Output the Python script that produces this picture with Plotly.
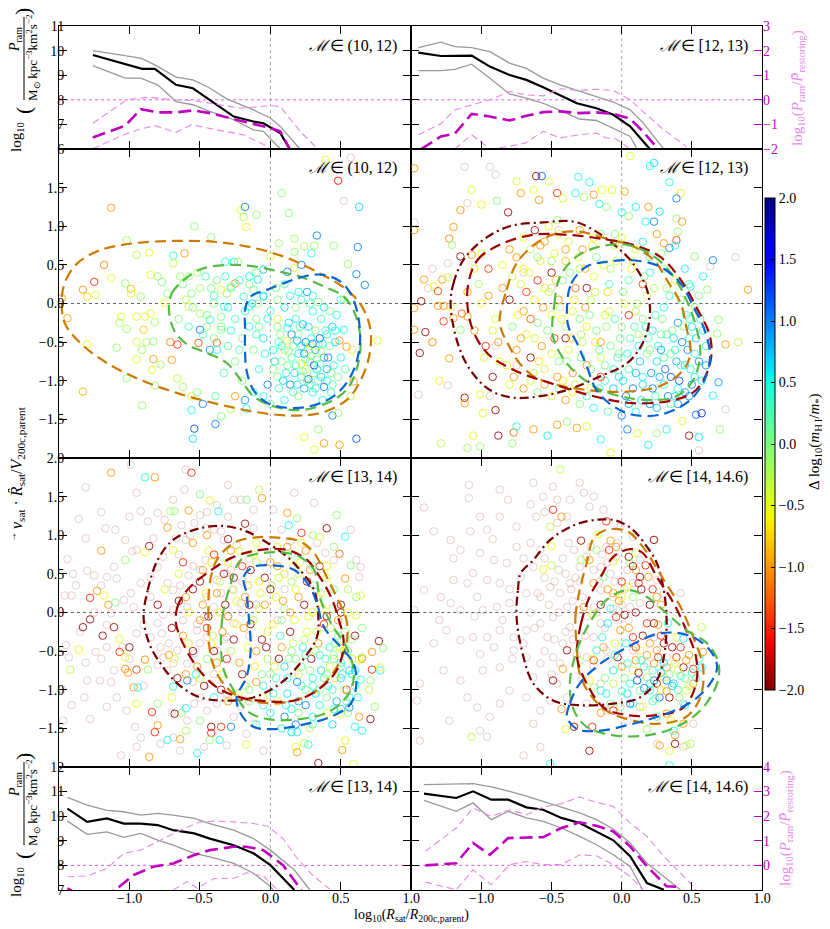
import numpy as np
import plotly.graph_objects as go

# ---------------- data ----------------
# top-left panel  M in (10,12)
TL_BLACK_X = [-1.26, -0.91, -0.82, -0.67, -0.55, -0.45, -0.26, -0.12, -0.05, 0.07, 0.14]
TL_BLACK_Y = [9.82, 9.26, 9.26, 8.61, 8.47, 8.07, 7.32, 7.12, 7.05, 6.65, 5.97]
TL_GUP_X = [-1.26, -1.02, -0.92, -0.82, -0.67, -0.55, -0.44, -0.31, -0.12, 0.0, 0.07, 0.21]
TL_GUP_Y = [10.0, 9.78, 9.69, 9.42, 8.92, 8.81, 8.51, 8.04, 7.59, 7.26, 6.92, 6.0]
TL_GLO_X = [-1.26, -1.03, -0.92, -0.80, -0.67, -0.55, -0.43, -0.26, -0.12, -0.05, 0.07]
TL_GLO_Y = [9.39, 8.88, 8.88, 8.61, 7.93, 7.80, 7.53, 7.19, 6.78, 6.72, 6.0]
TL_MAG_X = [-1.26, -1.03, -0.92, -0.80, -0.67, -0.55, -0.43, -0.26, -0.12, 0.0, 0.07, 0.14]
TL_MAG_Y = [-1.53, -1.05, -0.38, -0.51, -0.51, -0.43, -0.54, -0.78, -0.95, -1.15, -1.28, -2.03]
TL_VUP_X = [-1.26, -1.02, -0.86, -0.69, -0.55, -0.38, -0.21, 0.0, 0.07, 0.21, 0.33]
TL_VUP_Y = [-0.95, 0.0, 0.11, 0.0, -0.03, -0.2, -0.34, -0.24, -0.27, -1.28, -1.96]
TL_VLO_X = [-1.26, -1.04, -0.92, -0.82, -0.67, -0.56, -0.38, -0.19, -0.02, 0.01]
TL_VLO_Y = [-1.99, -1.42, -1.18, -1.05, -1.32, -1.01, -1.22, -1.42, -1.89, -2.16]

# top-right panel  M in [12,13)
TR_BLACK_X = [-1.45, -1.29, -1.07, -0.94, -0.80, -0.68, -0.56, -0.44, -0.32, -0.18, -0.06, 0.06, 0.20]
TR_BLACK_Y = [9.92, 9.78, 9.80, 9.35, 9.01, 8.81, 8.51, 8.20, 7.86, 7.66, 7.39, 6.92, 6.0]
TR_GUP_X = [-1.45, -1.29, -1.19, -1.07, -0.94, -0.80, -0.68, -0.56, -0.44, -0.32, -0.18, -0.06, 0.06, 0.15, 0.30]
TR_GUP_Y = [10.12, 10.34, 10.16, 10.12, 9.96, 9.49, 9.28, 8.88, 8.61, 8.38, 8.14, 7.91, 7.59, 7.08, 6.0]
TR_GLO_X = [-1.45, -1.29, -1.19, -1.07, -0.94, -0.80, -0.68, -0.56, -0.44, -0.30, -0.18, -0.06, 0.06, 0.11]
TR_GLO_Y = [9.19, 9.19, 9.24, 9.45, 8.88, 8.24, 8.07, 7.86, 7.57, 7.22, 7.16, 6.85, 6.51, 6.0]
TR_MAG_X = [-1.43, -1.29, -1.19, -1.07, -0.94, -0.80, -0.68, -0.56, -0.44, -0.30, -0.18, -0.06, 0.06, 0.15, 0.26]
TR_MAG_Y = [-2.0, -1.49, -1.38, -0.57, -0.68, -0.84, -0.65, -0.50, -0.47, -0.54, -0.51, -0.57, -0.77, -1.28, -2.0]
TR_VUP_X = [-1.45, -1.29, -1.19, -1.07, -0.94, -0.80, -0.68, -0.56, -0.44, -0.30, -0.18, -0.06, 0.06, 0.15, 0.30, 0.46]
TR_VUP_Y = [-1.42, -0.97, -0.41, -0.20, 0.0, 0.34, 0.20, 0.16, 0.45, 0.38, 0.43, 0.38, 0.0, -0.47, -1.22, -1.89]
TR_VLO_X = [-1.19, -1.07, -0.94, -0.80, -0.69, -0.56, -0.44, -0.30, -0.18, -0.11, -0.04, 0.06]
TR_VLO_Y = [-2.0, -1.42, -2.0, -1.89, -1.76, -1.28, -1.55, -1.42, -1.35, -1.55, -1.59, -2.0]

# bottom-left panel  M in [13,14)
BL_BLACK_X = [-1.44, -1.30, -1.16, -1.04, -0.92, -0.80, -0.69, -0.54, -0.43, -0.26, -0.12, 0.0, 0.17]
BL_BLACK_Y = [10.31, 9.77, 9.91, 9.70, 9.70, 9.64, 9.43, 9.30, 9.09, 8.82, 8.49, 8.01, 7.0]
BL_GUP_X = [-1.44, -1.30, -1.16, -1.04, -0.92, -0.80, -0.69, -0.54, -0.43, -0.26, -0.12, 0.0, 0.17, 0.28]
BL_GUP_Y = [10.76, 10.45, 10.24, 10.18, 10.04, 10.11, 10.04, 9.91, 9.70, 9.43, 9.09, 8.62, 7.81, 7.0]
BL_GLO_X = [-1.44, -1.30, -1.16, -1.04, -0.92, -0.80, -0.69, -0.54, -0.43, -0.26, -0.12, 0.0, 0.02]
BL_GLO_Y = [9.80, 9.26, 9.36, 9.14, 9.30, 9.03, 8.82, 8.49, 8.35, 8.08, 7.68, 7.14, 7.0]
BL_MAG_X = [-1.44, -1.30, -1.10, -0.97, -0.83, -0.69, -0.54, -0.43, -0.26, -0.17, -0.05, 0.09, 0.22]
BL_MAG_Y = [-0.93, -1.40, -1.0, -0.39, -0.05, 0.08, 0.42, 0.62, 0.76, 0.76, 0.62, 0.01, -1.0]
BL_VUP_X = [-1.44, -1.30, -1.16, -1.04, -0.92, -0.78, -0.64, -0.50, -0.40, -0.26, -0.12, -0.02, 0.09, 0.19, 0.31, 0.43]
BL_VUP_Y = [-0.46, -0.43, -0.12, 0.49, 0.62, 1.03, 1.43, 1.77, 1.80, 1.77, 1.70, 1.59, 1.09, 0.28, -0.46, -1.0]
BL_VLO_X = [-0.69, -0.59, -0.52, -0.40, -0.26, -0.17, -0.05, 0.05]
BL_VLO_Y = [-1.0, -0.66, -0.93, -0.53, -0.53, -0.30, -0.43, -1.0]

# bottom-right panel  M in [14,14.6)
BR_BLACK_X = [-1.41, -1.18, -1.06, -0.93, -0.81, -0.68, -0.56, -0.43, -0.30, -0.18, -0.06, 0.06, 0.18, 0.30]
BR_BLACK_Y = [10.92, 10.74, 11.01, 10.67, 10.67, 10.36, 10.26, 9.93, 9.72, 9.38, 9.02, 8.37, 7.28, 7.01]
BR_GUP_X = [-1.41, -1.06, -0.93, -0.80, -0.68, -0.56, -0.43, -0.30, -0.18, -0.06, 0.06, 0.18, 0.30, 0.42]
BR_GUP_Y = [11.28, 11.32, 11.19, 11.01, 10.81, 10.60, 10.37, 10.13, 9.86, 9.48, 8.91, 8.09, 7.55, 7.0]
BR_GLO_X = [-1.41, -1.18, -1.06, -0.93, -0.81, -0.68, -0.56, -0.43, -0.30, -0.18, -0.06, 0.06, 0.15]
BR_GLO_Y = [10.64, 10.20, 10.54, 9.86, 10.20, 9.93, 9.79, 9.52, 9.18, 8.84, 8.43, 7.96, 7.0]
BR_MAG_X = [-1.40, -1.18, -1.06, -0.94, -0.81, -0.68, -0.56, -0.43, -0.30, -0.18, -0.06, 0.06, 0.18, 0.32, 0.43]
BR_MAG_Y = [0.0, 0.09, 0.91, 0.43, 1.11, 1.14, 1.15, 1.52, 1.75, 1.61, 1.38, 0.77, -0.04, -0.85, -0.88]
BR_VUP_X = [-1.40, -1.18, -1.06, -0.93, -0.80, -0.68, -0.56, -0.43, -0.30, -0.18, -0.06, 0.06, 0.18, 0.30, 0.42, 0.53]
BR_VUP_Y = [0.57, 1.52, 2.33, 1.99, 2.26, 2.06, 2.37, 2.51, 2.78, 2.56, 2.40, 1.72, 1.18, 0.37, -0.31, -0.99]
BR_VLO_X = [-1.40, -1.18, -1.06, -0.93, -0.80, -0.68, -0.56, -0.43, -0.30, -0.18, -0.06, 0.06, 0.15]
BR_VLO_Y = [-0.68, -0.99, -0.18, -0.79, 0.03, 0.16, 0.03, 0.03, 0.43, 0.39, 0.03, -0.45, -0.99]

# scatter panel 1  M in (10,12): (x, y, delta)
P1_PTS = [
 (-1.13,1.24,-1.0),(-1.02,0.82,-0.2),(-1.18,0.5,-1.1),(-1.13,0.33,-0.5),(-1.25,0.28,-1.5),(-1.33,0.18,-1.0),
 (-1.30,0.09,-0.7),(-1.24,0.11,-0.5),(-1.48,0.07,-1.0),(-1.44,-0.19,-1.0),(-1.30,-0.53,-0.6),(-1.33,-1.14,-0.9),
 (-0.95,0.63,-0.3),(-0.86,0.66,-0.5),(-0.99,0.19,-0.9),(-0.99,0.13,-0.5),(-1.03,0.26,-0.1),(-0.92,0.09,-0.1),
 (-0.85,0.37,-0.5),(-0.80,0.35,-0.1),(-0.77,0.28,0.0),(-0.73,0.13,0.0),(-1.06,-0.17,-0.5),(-1.07,-0.25,-0.2),
 (-1.02,-0.33,-0.2),(-0.95,-0.17,-0.5),(-0.89,-0.17,-0.4),(-0.85,-0.13,-0.5),(-0.82,-0.24,-0.2),(-0.90,-0.34,-0.8),
 (-0.88,-0.50,-0.2),(-0.83,-0.49,-0.1),(-0.95,-0.50,-0.4),(-0.91,-0.60,-0.1),(-1.09,-0.57,-0.1),(-0.95,-0.72,-0.5),
 (-0.83,-0.72,-1.0),(-0.78,-0.79,-0.2),(-0.84,-0.86,-0.5),(-1.02,-0.97,-0.1),(-0.91,-1.32,-0.1),(-0.82,-1.06,-0.2),
 (-0.71,-0.50,-1.1),(-0.66,-0.53,-1.5),(-0.70,-0.73,-1.0),(-0.66,-0.97,-0.3),(-0.62,-1.08,-0.2),(-0.51,-0.51,-1.3),
 (-0.38,-0.51,-1.3),(-0.75,0.01,-0.5),(-0.69,0.62,0.4),(-0.61,0.65,-1.0),(-0.69,0.52,-0.3),(-0.64,0.35,-0.1),
 (-0.58,0.35,-0.1),(-0.56,0.13,0.0),(-0.54,1.0,-0.1),(-0.42,0.86,-0.1),(-0.58,-0.04,-0.5),(-0.50,-0.13,-0.2),
 (-0.45,-0.30,-0.1),(-0.56,-1.20,-0.5),(-0.52,-1.15,-0.1),(-0.56,-1.38,0.5),(-0.54,-1.62,1.2),(-0.55,-1.75,0.6),
 (-0.48,-1.30,1.0),(-0.39,-1.20,0.2),(-0.39,-1.56,1.0),(-0.35,-1.46,0.0),(-0.28,-1.37,-0.3),(-0.25,-1.20,-1.0),
 (-0.17,-1.36,0.5),(-0.18,-1.25,0.9),(-0.50,-0.34,1.0),(-0.43,-0.60,0.9),(-0.40,0.00,0.0),(-0.35,-0.17,0.0),
 (-0.43,-0.21,0.4),(-0.35,-0.34,0.0),(-0.33,-0.04,0.4),(-0.31,0.13,-0.1),(-0.25,0.26,-1.0),(-0.28,0.22,0.0),
 (-0.35,0.18,-0.5),(-0.32,0.54,0.4),(-0.26,0.54,0.5),(-0.23,0.54,-0.1),(-0.21,1.21,-0.5),(-0.18,1.25,1.0),
 (-0.19,1.12,-0.2),(-0.17,0.99,-0.6),(-0.10,1.15,-0.1),(-0.15,0.35,0.5),(-0.09,0.31,0.6),(-0.12,0.18,0.0),
 (-0.19,0.09,0.5),(-0.15,-0.04,0.5),(-0.09,0.0,-0.1),(-0.05,0.09,0.6),(-0.05,0.44,0.7),(0.0,0.61,-0.5),
 (0.06,0.78,-0.1),(0.08,1.43,-0.1),(0.13,1.17,0.0),(0.17,0.84,-0.2),(0.17,0.67,-0.1),(0.17,0.46,-0.5),
 (0.12,0.41,1.0),(0.22,0.50,1.0),(0.24,0.74,-0.2),(0.29,0.65,0.5),(0.33,0.88,1.0),(0.31,0.75,-0.1),
 (0.45,0.75,-0.1),(0.63,1.25,0.7),(0.62,0.73,1.0),(0.55,0.51,-0.1),(0.61,0.38,1.0),(0.67,0.24,1.0),
 (0.48,1.59,-1.6),(0.39,1.86,-0.5),(0.31,-1.89,-0.5),(0.24,-1.73,-0.5),(0.38,-1.81,-1.0),(0.49,-1.83,-1.0),
 (0.61,-1.75,1.2),(0.34,-1.63,-0.1),(0.44,-1.45,1.0),(0.48,-1.42,-0.1),(0.57,-1.20,-0.3),(0.59,-1.01,-1.0),
 (0.76,-0.48,-0.5),(0.58,-0.60,-0.5),(0.54,-0.56,-1.0),(0.49,-0.48,-1.0),(0.52,-0.34,0.5),(0.50,0.05,0.5),
 (0.52,0.05,-0.1),
 (-0.15,-0.30,0.5),(-0.10,-0.20,0.0),(-0.05,-0.45,0.6),(0.00,-0.10,0.3),(0.05,-0.30,0.0),(0.08,-0.55,0.5),
 (0.10,-0.05,0.6),(0.12,-0.80,0.0),(0.15,-0.40,1.0),(0.18,-0.20,0.4),(0.20,-0.65,0.5),(0.22,-0.95,0.3),
 (0.25,-0.50,1.1),(0.27,-0.30,0.6),(0.28,-0.75,0.0),(0.30,-0.10,0.5),(0.32,-0.60,0.9),(0.33,-0.85,0.6),
 (0.35,-0.45,1.2),(0.36,-0.20,0.4),(0.38,-0.70,1.0),(0.40,-1.00,0.5),(0.42,-0.55,0.0),(0.44,-0.30,0.7),
 (0.45,-0.80,0.4),(-0.12,-0.60,0.0),(-0.08,-0.85,0.4),(-0.02,-1.05,1.0),(0.03,-0.75,0.6),(0.06,-1.10,0.3),
 (0.10,-1.25,0.5),(0.14,-1.05,1.0),(0.17,-0.90,0.6),(0.20,-1.20,0.0),(0.24,-1.10,0.8),(0.27,-0.98,1.2),
 (0.30,-1.15,0.5),(0.34,-1.00,0.2),(0.37,-1.25,0.5),(0.18,-0.05,0.0),(0.14,0.10,0.5),(0.22,0.05,0.3),
 (0.26,0.15,0.9),(0.30,0.10,0.5),(0.34,0.02,0.0),(0.38,-0.05,0.6),(0.05,0.05,0.0),(-0.05,0.10,0.5),
 (0.40,-0.40,0.5),(0.25,-0.85,-0.3),(0.28,-0.55,-0.4),(0.10,-0.60,-0.2),(0.20,-0.40,0.0),(0.05,-0.95,0.0),
 (0.32,-0.35,0.0),(-0.10,-0.40,0.3),(0.15,-0.70,0.2),(0.36,-0.62,-0.2),(0.29,-0.68,0.0),(0.23,-0.27,0.8),
 (0.12,-0.32,0.5),(-0.18,-0.10,0.4),(-0.20,-0.45,0.0),(-0.25,-0.20,0.3),(-0.30,-0.05,0.5),(-0.35,-0.30,0.0),
 (-0.40,0.10,0.4),(-0.45,-0.15,0.0),(-0.28,0.20,0.2),(-0.22,0.30,0.5),(-0.15,0.25,0.0),(-0.38,0.30,0.0),
 (-0.50,0.20,-0.2),(-0.55,-0.05,0.0),(-0.60,0.05,-0.3),(-0.48,-0.40,0.3),(-0.30,-0.55,0.2),(-0.25,-0.75,0.0),
 (-0.33,-0.90,0.2),(-0.20,-1.00,0.0),(-0.12,-1.15,0.4),(0.47,-0.15,0.5),(0.48,-0.95,0.0),(0.43,-1.15,0.4),
 (0.05,-0.20,-0.4),(0.12,-0.48,-0.5),(0.22,-0.78,-0.5),
]
P1_EXTRA = [
 (0.02,-0.60,0.5),(0.07,-0.40,0.0),(0.11,-0.90,0.5),(0.16,-0.55,0.0),(0.19,-1.05,0.6),(0.21,-0.30,0.2),
 (0.24,-0.65,1.0),(0.26,-1.00,0.0),(0.29,-0.45,0.5),(0.31,-0.80,1.3),(0.34,-0.55,0.0),(0.36,-0.95,0.6),
 (0.39,-0.35,0.3),(0.41,-0.70,1.0),(0.43,-0.90,0.0),(0.46,-0.50,0.6),(0.08,-0.75,0.0),(0.13,-0.25,0.6),
 (0.27,-0.60,-0.2),(0.33,-0.72,0.0),(0.31,-0.90,0.1),(0.25,-0.72,0.1),(0.22,-0.55,0.6),(0.18,-0.80,0.3),
 (0.30,-0.52,1.0),(0.37,-0.52,0.5),(0.35,-0.78,0.2),(0.40,-0.85,0.8),(0.28,-1.05,0.4),(0.16,-1.15,0.2),
 (0.09,-1.00,0.7),(0.02,-0.85,0.0),(-0.04,-0.65,0.5),(-0.08,-0.30,0.0),(-0.13,0.00,0.6),(-0.02,-0.20,0.5),
 (0.04,0.20,0.0),(0.10,0.25,0.3),(0.20,0.15,0.5),(0.28,0.00,0.2),(0.42,-0.10,0.0),(0.46,-0.35,0.5),
 (-0.28,-0.35,0.5),(-0.22,-0.60,0.2),(-0.38,-0.60,0.5),(-0.42,0.20,0.0),(-0.46,0.35,0.3),(-0.32,0.35,0.4),
 (-0.10,0.40,0.0),(-0.52,0.40,-0.2),(-0.62,0.25,0.0),(-0.65,-0.20,0.0),(-0.58,-0.30,0.3),(-0.40,-0.45,0.0),
 (0.50,-0.70,0.5),(0.53,-0.85,0.2),(0.13,-0.62,0.0),(0.06,-0.50,0.3),(0.19,-0.48,0.7),(0.23,-0.88,0.0),
 (0.32,-1.10,0.3),(0.38,-1.08,1.0),(0.44,-1.05,0.2),(-0.05,-1.20,0.5),(0.00,-1.30,0.2),
]
P1_FADED = [(0.52,1.33),(0.57,1.89)]

# scatter panel 2  M in [12,13)
P2_PTS = [
 (-1.48,1.75,-1.0),(-0.61,1.65,-1.9),(-0.57,1.65,1.2),(-0.75,1.58,-0.5),(-0.52,1.58,-0.5),(-0.31,1.64,0.5),
 (-0.23,1.57,0.5),(0.06,1.91,-0.5),(0.20,1.78,0.5),(0.23,1.82,0.6),(0.34,1.57,0.5),(0.42,1.43,-0.6),
 (0.39,1.36,1.0),(-1.07,1.47,-0.5),(-1.00,1.28,-0.5),(-1.15,1.21,-1.0),(-0.89,1.33,0.0),(-0.81,1.18,-1.9),
 (-0.72,1.43,-1.0),(-0.63,1.47,-0.5),(-0.59,1.34,-1.0),(-0.46,1.43,-1.5),(-0.42,1.36,-0.5),(-0.33,1.43,0.5),
 (-0.27,1.38,-0.1),(-0.20,1.41,-1.0),(-0.14,1.47,-0.5),(-0.07,1.47,-0.5),(0.02,1.45,-1.0),(-0.16,1.29,0.5),
 (-0.11,1.25,-0.1),(0.0,1.18,0.5),(0.05,1.13,-0.1),(0.10,1.25,0.5),(0.19,1.25,-1.0),(0.27,1.19,0.6),
 (0.39,1.10,-0.1),(0.43,1.06,-1.0),(0.23,1.06,1.0),(0.17,1.06,0.5),(-1.48,0.95,-1.0),(-1.20,0.99,-1.0),
 (-1.23,0.84,-1.1),(-1.21,0.76,-0.1),(-1.07,0.63,-1.0),(-1.15,0.61,-1.9),(-1.41,0.31,-1.0),(-1.34,0.22,-0.6),
 (-1.31,0.16,-1.4),(-1.28,0.31,-1.0),(-1.24,0.34,-0.3),(-1.43,0.03,-1.9),(-1.48,-0.06,-1.0),(-1.48,-0.34,-1.0),
 (-1.40,-0.37,-1.9),(-1.35,-0.50,-1.1),(-1.44,-0.64,-1.9),(-1.31,-0.03,-1.0),(-1.27,-0.03,-1.1),(-1.22,-0.04,-0.6),
 (-1.27,-0.23,-1.4),(-1.20,-0.19,-1.0),(-1.14,-0.13,-1.3),(-1.10,-0.17,-1.0),(-1.15,-0.34,-0.1),(-1.23,-0.71,-1.0),
 (-1.30,-1.0,-0.6),(-1.12,-1.22,-1.9),(-1.12,-1.29,-1.0),(-1.01,-1.18,-0.5),(-0.90,-1.38,-1.9),(-0.99,-1.42,-0.5),
 (-1.06,-1.71,-0.5),(-1.01,-1.85,-0.1),(-1.29,-1.81,-0.3),(-1.10,-1.87,-0.2),(-0.88,-1.71,-1.9),(-0.77,-1.67,-1.2),
 (-0.75,-1.59,0.5),(-0.78,-1.81,-0.1),(-0.63,-1.63,-1.0),(-0.53,-1.71,0.5),(-0.46,-1.57,-1.0),(-0.39,-1.53,-0.1),
 (-0.32,-1.61,-1.0),(-0.25,-1.59,-0.5),(-0.08,-1.93,-0.6),(-0.15,-1.76,0.5),(0.04,-1.63,1.0),(0.11,-1.68,-0.5),
 (0.19,-1.83,0.5),(0.25,-1.68,-0.1),(0.32,-1.63,0.5),(0.43,-1.52,-0.5),(0.48,-1.71,-1.9),(0.55,-1.73,0.6),
 (0.53,-1.44,1.1),(0.57,-1.42,1.4),(0.65,-1.19,0.5),(0.69,-1.02,0.9),(0.70,-1.63,-0.1),(0.74,-0.53,-1.0),
 (0.83,-0.50,-0.3),(0.68,-0.39,-0.1),(0.69,-0.21,-0.1),(0.90,0.18,-1.0),(0.58,0.35,0.5),(0.65,0.56,1.0),
 (0.52,0.61,-0.1),(0.40,0.93,-0.1),(0.34,0.72,1.0),(0.30,0.78,-1.0),(0.39,0.82,-1.4),(0.49,0.22,0.5),
 (0.61,0.18,-0.1),(-0.46,1.08,-0.1),
 (-0.75,0.60,-1.0),(-0.70,0.45,-0.5),(-0.65,0.70,-0.2),(-0.60,0.30,-1.5),(-0.58,0.55,-0.6),(-0.55,0.80,-1.0),
 (-0.52,0.15,-0.3),(-0.50,0.40,-1.9),(-0.48,0.65,-0.5),(-0.45,0.05,-1.0),(-0.42,0.30,0.0),(-0.40,0.55,-0.8),
 (-0.38,0.80,-0.4),(-0.35,-0.10,-0.5),(-0.33,0.20,-1.2),(-0.30,0.45,-0.2),(-0.28,0.70,-1.0),(-0.25,-0.30,-0.6),
 (-0.22,0.05,-0.3),(-0.20,0.35,-0.5),(-0.18,0.60,0.0),(-0.15,-0.50,-1.0),(-0.12,-0.15,-0.4),(-0.10,0.15,-0.7),
 (-0.08,0.45,-0.2),(-0.05,0.75,-0.5),(-0.03,-0.70,0.3),(0.00,-0.30,-0.1),(0.02,0.00,-0.5),(0.05,0.30,0.2),
 (0.08,0.55,-0.3),(0.10,-0.90,0.8),(0.12,-0.55,0.5),(0.15,-0.20,0.0),(0.18,0.10,-0.4),(0.20,0.40,0.5),
 (0.22,-1.10,1.0),(0.25,-0.75,0.6),(0.28,-0.40,0.1),(0.30,-0.05,0.5),(0.32,0.20,-0.2),(0.35,-0.95,1.2),
 (0.38,-0.60,0.5),(0.40,-0.25,0.9),(0.42,0.05,0.0),(0.45,-0.80,0.6),(0.48,-0.45,0.3),(0.50,-1.05,1.0),
 (0.52,-0.65,0.5),(-0.70,-0.10,-1.0),(-0.68,-0.40,-0.5),(-0.65,-0.70,-1.9),(-0.62,0.05,-0.6),(-0.60,-0.25,0.0),
 (-0.57,-0.55,-1.0),(-0.55,-0.85,-0.4),(-0.50,-0.15,-0.5),(-0.48,-0.45,-1.4),(-0.45,-0.75,0.0),(-0.42,-1.00,-0.6),
 (-0.40,-0.30,-0.2),(-0.38,-0.60,-0.5),(-0.35,-0.90,-1.0),(-0.30,-0.20,0.0),(-0.28,-0.50,-0.3),(-0.25,-0.80,-1.0),
 (-0.22,-1.10,-0.5),(-0.18,-0.35,0.0),(-0.15,-0.70,-0.4),(-0.12,-1.00,0.3),(-0.08,-0.55,0.0),(-0.05,-0.20,0.3),
 (-0.02,-0.95,0.6),(0.03,-1.20,1.0),(0.06,-0.45,0.2),(0.10,-0.10,-0.3),(0.14,-1.25,0.6),(0.17,-0.30,0.5),
 (0.20,-0.60,0.0),(0.24,-0.15,0.3),(0.27,-0.95,0.8),(0.30,-0.70,0.2),(0.33,-1.20,1.0),(0.36,-0.35,0.0),
 (0.40,-1.10,0.5),(0.43,-0.50,1.0),(0.46,-0.15,0.4),(0.50,-0.30,0.6),(-0.85,0.20,-1.0),(-0.90,-0.20,-0.5),
 (-0.95,0.45,-1.4),(-0.88,-0.50,-1.0),(-0.82,-0.80,-0.6),(-0.80,0.05,-1.9),(-0.78,-0.30,0.0),(-0.75,-0.60,-1.0),
 (-0.72,0.25,-0.4),(-1.00,0.00,-0.6),(-1.05,-0.35,-1.0),(-0.98,-0.70,-0.5),(-1.02,0.25,-0.2),(-0.92,-0.95,-1.9),
 (-0.80,-1.05,-0.5),(-0.70,-1.10,-1.0),(-0.60,-1.15,0.0),(-0.50,-1.20,-0.5),(-0.40,-1.25,-1.0),(-0.30,-1.30,0.0),
 (-0.20,-1.35,0.5),(-0.10,-1.40,0.2),(0.00,-1.45,1.0),(0.10,-1.40,0.5),(0.25,-1.35,0.8),(0.40,-1.30,1.0),
 (-0.45,0.90,-0.5),(-0.30,0.95,-1.0),(-0.15,0.90,0.0),(0.00,0.85,-0.5),(0.15,0.80,0.5),(0.28,0.65,-0.2),
 (0.45,0.45,0.5),(0.55,0.10,0.0),(0.58,-0.35,0.5),(0.60,-0.80,0.9),(-0.62,0.95,-1.9),(-0.52,1.00,-0.5),
 (0.25,0.90,-1.0),(0.38,0.75,0.5),(-0.25,0.20,-1.9),(0.05,-0.15,-1.5),(-0.40,-0.45,-1.9),(0.15,0.25,-1.3),
 (-0.15,-0.95,-1.5),(-0.65,-0.20,-1.3),
]
P2_EXTRA = [
 (-0.55,0.20,-0.5),(-0.50,0.55,-0.2),(-0.47,0.30,-0.8),(-0.44,-0.05,-0.3),(-0.40,0.70,-1.0),(-0.37,0.40,0.0),
 (-0.34,0.05,-0.6),(-0.31,0.60,-0.4),(-0.29,-0.40,-0.2),(-0.26,0.45,-0.9),(-0.23,-0.15,0.0),(-0.21,0.75,-0.5),
 (-0.19,0.15,-0.3),(-0.16,-0.60,0.2),(-0.13,0.50,-0.6),(-0.11,-0.30,-0.1),(-0.09,0.25,0.3),(-0.06,-0.85,0.4),
 (-0.04,0.55,-0.4),(-0.01,-0.45,0.1),(0.01,0.15,0.0),(0.04,-0.65,0.5),(0.07,0.45,-0.5),(0.09,-0.30,0.3),
 (0.11,0.00,-0.2),(0.13,-0.75,0.7),(0.16,0.35,0.0),(0.19,-0.45,0.2),(0.21,-0.90,0.9),(0.23,0.20,-0.3),
 (0.26,-0.55,0.5),(0.29,-0.20,0.0),(0.31,-0.85,1.1),(0.34,0.10,0.3),(0.37,-0.45,0.6),(0.39,-0.75,0.8),
 (0.41,-1.00,1.2),(0.44,-0.30,0.0),(0.47,-0.60,0.9),(0.49,-0.85,0.4),(0.53,-0.45,0.7),(0.55,-0.75,1.0),
 (0.57,-1.00,0.5),(-0.62,-0.45,-0.4),(-0.59,-0.75,-0.7),(-0.56,-0.05,-1.0),(-0.53,-0.35,0.0),(-0.50,-0.65,-0.5),
 (-0.46,-0.95,-1.0),(-0.43,-0.20,-0.5),(-0.39,-0.75,0.0),(-0.36,-0.45,-0.8),(-0.33,-1.05,-0.3),(-0.29,-0.70,0.2),
 (-0.26,-0.05,-1.0),(-0.22,-0.85,0.0),(-0.19,-0.50,-0.6),(-0.16,-1.10,0.4),(-0.12,-0.80,0.1),(-0.09,-0.10,-0.4),
 (-0.06,-1.10,0.7),(-0.02,-0.65,0.0),(0.01,-1.00,0.6),(0.05,-0.85,0.2),(0.08,-1.10,1.0),(0.12,-0.40,-0.2),
 (0.15,-0.95,0.5),(0.18,-0.65,0.0),(0.22,-0.35,0.5),(0.24,-1.20,0.3),(0.28,-0.60,0.9),(0.32,-0.40,0.2),
 (0.35,-0.65,0.0),(0.38,-1.20,0.6),(0.42,-0.80,0.3),(0.45,-1.15,0.9),(0.48,-0.20,0.2),(0.52,-0.95,0.6),
 (0.56,-0.20,0.3),(0.60,-0.55,0.2),(-0.85,0.50,-0.5),(-0.80,0.70,-1.0),(-0.78,0.35,-0.3),(-0.74,-0.15,-0.6),
 (-0.72,-0.45,-1.0),(-0.68,0.15,-1.4),(-0.66,0.40,-0.5),(-0.63,-0.90,-0.3),(-0.60,0.60,0.0),(-0.95,0.10,-1.0),
 (-0.92,-0.35,-0.4),(-0.97,-0.55,-1.5),(-1.05,0.45,-0.6),(-1.10,0.15,-1.0),(-1.00,0.65,-0.5),(-0.87,-0.75,-0.6),
 (-0.77,-0.95,-1.0),(-0.65,-1.00,-0.5),(-0.55,-1.05,-1.0),(-0.45,-1.10,0.0),(-0.35,-1.15,-0.6),(-0.25,-1.20,0.3),
 (0.05,-1.30,0.8),(0.15,-1.05,0.6),(0.20,-1.30,1.0),(0.30,-1.05,0.5),(0.35,-1.30,0.2),(0.48,-1.20,0.9),
 (-0.20,0.85,-0.5),(-0.05,0.90,0.0),(0.10,0.70,-0.4),(0.20,0.60,0.2),(0.30,0.45,0.0),(0.38,0.30,-0.5),
 (0.48,0.25,0.3),(0.52,-0.05,0.0),(-0.70,0.85,-0.5),(-0.58,0.75,-1.0),
]
P2_FADED = [(-1.48,1.05),(-1.12,1.77),(-0.94,1.77),(-0.90,1.67),(-1.10,1.30),(-1.24,0.52),(-1.38,0.20),
 (-1.45,-1.18),(-1.24,-1.06),(-0.94,-1.20),(0.74,-1.37),(0.55,-1.90),(0.81,0.60),(-0.45,0.95),(-0.70,0.40),
 (-0.50,0.20),(-0.90,-0.55),(-0.75,-0.80),(0.63,0.48),(-1.35,0.45)]

# scatter panel 3  M in [13,14)
P3_PTS = [
 (-1.13,1.81,-1.0),(-0.56,1.81,-1.5),(-0.89,1.75,0.5),(-0.82,1.75,-1.0),(-0.50,1.53,0.0),(-0.43,1.45,-0.5),
 (-0.37,1.31,0.5),(-0.58,1.32,-1.0),(-0.71,1.31,-0.2),(-0.68,1.31,-0.1),(-0.08,1.59,-0.3),(-0.06,1.48,-1.0),
 (-0.17,1.46,0.0),(0.12,1.29,-1.0),(0.19,1.22,-0.1),(0.13,1.13,0.5),(0.47,1.26,-0.1),(0.40,1.09,-1.9),
 (0.53,0.98,0.5),(0.22,1.03,-1.5),(-0.18,1.15,-1.9),(-0.73,1.10,-1.0),(-0.86,0.86,-1.9),(-1.20,0.80,-1.0),
 (-1.03,0.68,-0.1),(-0.69,0.81,-0.5),(-0.89,0.78,-0.5),(-1.28,0.19,-1.5),(-1.23,0.28,-1.0),(-1.18,0.22,-0.5),
 (-1.15,0.10,-1.0),(-1.10,0.13,0.0),(-1.28,-0.09,-1.9),(-1.33,-0.19,-1.9),(-1.19,-0.30,-1.9),(-1.11,-0.19,-1.8),
 (-1.07,-0.34,-0.5),(-1.36,-0.48,-0.6),(-1.42,-0.74,-0.3),(-1.07,-0.51,-1.5),(-1.00,-0.45,-1.9),(-1.03,-0.58,-0.5),
 (-1.03,-0.73,-1.1),(-1.01,-0.78,-1.0),(-0.95,-0.74,-1.4),(-0.97,-0.97,-1.0),(-0.94,-0.97,0.5),(-0.89,-0.61,-1.1),
 (-0.87,-0.74,-0.1),(-0.95,-1.18,-0.5),(-0.84,-1.29,-1.5),(-0.80,-1.18,-0.1),(-0.80,-1.46,-1.0),(-0.82,-1.55,-1.5),
 (-0.86,-1.87,-1.0),(-0.73,-1.65,0.5),(-0.64,-1.64,-1.0),(-0.60,-1.53,-0.2),(-0.52,-1.82,0.5),(-0.50,-1.40,0.0),
 (-0.42,-1.48,-1.9),(-0.42,-1.56,-1.5),(-0.35,-1.48,-1.5),(-0.28,-1.48,1.0),(-0.36,-1.65,0.5),(-0.43,-1.65,-0.1),
 (-0.17,-1.71,-0.5),(-0.59,-0.88,1.0),(-0.53,-0.80,0.5),(-0.69,-0.96,0.5),(-0.70,-1.10,-0.5),(-0.63,-1.30,-0.1),
 (-0.60,-1.24,0.5),(-0.68,-1.31,-1.9),(0.18,-1.74,-0.5),(0.19,-1.81,-1.0),(0.24,-1.69,-0.3),(0.19,-1.55,0.5),
 (0.34,-1.95,-1.9),(0.27,-1.71,0.5),(0.51,-1.78,-1.0),(0.59,-1.96,-0.5),(0.53,-1.66,-0.5),(0.60,-1.48,0.5),
 (0.65,-1.53,0.5),(0.71,-1.38,-1.9),(0.74,-1.22,-0.1),(0.63,-1.35,-1.0),(0.56,-1.23,1.0),(0.50,-1.31,-0.5),
 (0.54,-1.00,-1.5),(0.64,-0.87,0.5),(0.71,-0.88,-0.1),(0.78,-0.75,0.5),(0.78,-0.71,-0.5),(0.72,-0.74,-1.5),
 (0.77,-0.37,-1.9),(0.80,-0.46,-0.1),(0.72,-0.51,-1.0),(0.65,-0.58,-0.1),(0.63,-0.61,-0.5),(0.61,-0.04,-0.5),
 (0.64,0.22,-0.5),(0.61,0.20,-0.1),(0.57,0.61,0.0),(0.53,0.44,-1.0),(0.49,0.76,-1.2),(0.45,0.85,-0.1),
 (0.35,0.98,-0.5),(0.30,1.00,-0.1),(0.50,0.0,-1.9),(0.60,-0.30,-1.9),
 (-0.50,0.40,-1.9),(-0.48,0.10,-1.0),(-0.45,-0.20,-1.5),(-0.42,0.65,-0.5),(-0.40,-0.50,-1.9),(-0.38,0.25,-1.0),
 (-0.35,-0.80,-0.5),(-0.33,0.50,-1.9),(-0.30,-0.05,-1.2),(-0.28,0.80,-1.0),(-0.26,-0.35,-1.9),(-0.24,0.15,-0.5),
 (-0.22,-0.65,-1.0),(-0.20,0.60,-1.5),(-0.18,-0.95,-0.3),(-0.16,0.35,-0.8),(-0.14,-0.15,-1.9),(-0.12,0.75,-0.5),
 (-0.10,-0.50,-1.0),(-0.08,0.05,-0.4),(-0.06,-0.80,0.0),(-0.04,0.45,-1.9),(-0.02,-0.25,-0.5),(0.00,0.65,-1.0),
 (0.02,-1.05,0.5),(0.04,0.20,-0.5),(0.06,-0.60,-1.9),(0.08,-0.10,0.0),(0.10,0.50,-0.7),(0.12,-0.85,0.5),
 (0.14,0.00,-1.0),(0.16,-0.40,-0.3),(0.18,0.30,-0.5),(0.20,-1.15,0.8),(0.22,-0.70,0.0),(0.24,0.10,-1.9),
 (0.26,-0.25,-0.5),(0.28,0.55,-1.0),(0.30,-0.95,0.3),(0.32,-0.50,-0.2),(0.34,0.20,-0.5),(0.36,-0.75,0.6),
 (0.38,-0.15,-1.5),(0.40,-1.10,0.0),(0.42,-0.45,0.5),(0.44,0.05,-0.3),(0.46,-0.85,-0.6),(0.48,-0.30,0.0),
 (0.50,-0.65,0.5),(0.52,-1.00,-0.2),(0.55,-0.50,0.2),(0.58,-0.80,0.5),(-0.52,-0.70,-1.0),(-0.47,-0.95,-1.9),
 (-0.44,0.80,-0.5),(-0.41,-0.30,-0.3),(-0.36,0.00,-0.6),(-0.31,-0.60,-1.5),(-0.27,0.30,-0.3),(-0.23,-1.05,-0.5),
 (-0.19,-0.20,-1.0),(-0.15,0.10,-1.9),(-0.11,-0.70,-0.6),(-0.07,0.25,-0.5),(-0.03,-0.45,-1.9),(0.01,0.35,-0.2),
 (0.03,-0.70,-0.5),(0.07,-0.30,0.3),(0.09,0.15,-1.0),(0.11,-1.20,0.5),(0.13,-0.60,0.0),(0.15,0.40,-0.2),
 (0.17,-0.10,-0.5),(0.19,-0.90,1.0),(0.21,0.65,-0.5),(0.23,-0.45,0.5),(0.25,-1.00,0.0),(0.27,-0.05,-0.5),
 (0.29,-0.60,-1.9),(0.31,0.35,0.0),(0.33,-0.25,-0.4),(0.35,-1.20,0.5),(0.37,0.05,-0.5),(0.39,-0.60,0.3),
 (0.41,-0.95,0.5),(0.43,-0.20,-0.2),(0.45,-0.60,0.0),(0.47,-1.15,0.8),(0.49,-0.45,-0.5),(0.51,-0.80,0.3),
 (0.53,-0.25,0.0),(0.56,-1.10,0.5),(0.58,-0.60,-0.3),(0.60,-0.95,0.4),(-0.05,-1.10,-0.5),(-0.15,-1.15,0.0),
 (0.00,-1.30,0.5),(0.10,-1.35,1.0),(0.20,-1.30,0.0),(0.30,-1.35,0.5),(0.40,-1.30,-0.5),(0.50,-1.25,0.6),
 (-0.30,-1.15,-1.0),(-0.40,-1.10,0.5),(0.05,0.85,-0.5),(0.15,0.75,0.0),(0.25,0.80,-1.0),(-0.10,0.90,-0.5),
 (0.35,0.60,-1.9),(0.40,0.45,-0.5),(0.45,0.30,0.0),(0.50,0.10,-1.9),(0.55,0.00,-0.5),(-0.60,0.20,-1.0),
 (-0.65,0.50,-0.5),(-0.70,-0.20,-1.9),(-0.58,-0.40,-0.5),(-0.62,0.65,-1.5),(-0.55,0.90,-1.0),(-0.75,0.30,-0.5),
 (-0.80,0.10,-1.9),(-0.72,-0.55,-1.0),(-0.66,-0.85,-1.9),(0.08,-1.50,0.5),(0.18,-1.45,1.0),(0.28,-1.50,-0.3),
 (-0.10,-1.45,0.5),(0.44,-1.45,0.6),
]
P3_EXTRA = [
 (-0.48,0.55,-1.0),(-0.46,0.25,-0.5),(-0.44,-0.05,-1.9),(-0.42,-0.40,-0.6),(-0.40,0.75,-1.5),(-0.38,-0.65,-1.0),
 (-0.36,0.40,-0.3),(-0.34,-0.25,-1.0),(-0.32,0.10,-1.9),(-0.30,0.65,-0.5),(-0.28,-0.50,-0.3),(-0.26,0.45,-1.9),
 (-0.24,-0.15,-0.6),(-0.22,0.80,-0.5),(-0.20,-0.80,-1.9),(-0.18,0.20,-1.0),(-0.16,-0.45,-0.5),(-0.14,0.55,-1.9),
 (-0.12,-0.10,-0.3),(-0.10,-0.90,-1.0),(-0.08,0.40,-0.6),(-0.06,-0.35,-1.9),(-0.04,0.10,-1.0),(-0.02,-0.60,-0.2),
 (0.00,0.30,-1.9),(0.02,-0.15,-0.6),(0.04,-0.85,0.3),(0.06,0.45,-0.4),(0.08,-0.45,-1.0),(0.10,0.05,-0.2),
 (0.12,-1.05,0.6),(0.14,-0.25,-1.9),(0.16,0.60,-0.6),(0.18,-0.60,0.0),(0.20,0.20,-1.0),(0.22,-0.95,0.4),
 (0.24,-0.35,-0.3),(0.26,0.40,-1.9),(0.28,-0.75,0.0),(0.30,0.00,-0.6),(0.32,-1.05,0.6),(0.34,-0.40,-1.0),
 (0.36,0.25,-0.2),(0.38,-0.85,0.2),(0.40,-0.05,-1.9),(0.42,-0.70,-0.4),(0.44,-1.00,0.3),(0.46,-0.40,0.0),
 (0.48,-0.10,-1.0),(0.50,-0.85,0.6),(0.52,-0.50,-0.3),(0.54,-1.15,0.2),(0.56,-0.75,0.7),(0.58,-0.35,0.0),
 (-0.10,0.65,-0.3),(0.05,0.60,-1.0),(0.20,0.50,-0.4),(0.30,0.60,0.0),(-0.35,-1.00,-1.9),(-0.25,-1.10,-0.6),
 (-0.15,-1.00,0.0),(-0.05,-1.20,0.3),(0.05,-1.15,-0.5),(0.15,-1.25,0.5),(0.25,-1.20,1.0),(0.35,-1.00,0.0),
 (0.45,-1.25,0.4),(0.55,-1.30,0.0),(0.15,-1.55,0.6),(0.30,-1.45,0.4),(-0.05,-0.95,0.5),(0.00,-0.80,0.0),
 (0.10,-0.70,0.6),(0.20,-0.80,-0.3),(0.30,-0.85,0.5),(0.40,-0.80,0.0),(0.50,-0.70,0.2),(0.60,-0.75,0.6),
 (0.35,-0.55,0.4),(0.45,-0.55,-0.2),(0.25,-0.55,0.3),(0.15,-0.50,0.0),(-0.50,-0.10,-1.0),(-0.55,0.30,-1.9),
 (-0.58,0.00,-0.6),(-0.62,-0.30,-1.0),(-0.65,0.15,-1.9),(-0.68,-0.60,-0.4),(-0.60,-0.80,-1.0),(-0.55,-0.50,-1.9),
 (-0.50,-0.85,-0.5),(-0.45,-0.60,0.0),(0.12,0.85,-1.0),(0.22,0.90,-0.5),(-0.30,0.95,-1.9),(-0.45,1.00,-1.0),
 (0.40,0.60,-0.6),(0.55,0.30,-0.2),(0.65,-0.20,0.0),(0.65,-0.60,-1.0),(0.62,-1.10,0.5),(0.70,-1.00,-0.3),
]
P3_FADED = [
 (-0.99,1.91),(-0.60,1.85),(-1.31,1.62),(-1.0,1.24),(-0.92,1.31),(-0.80,1.29),(-0.87,1.18),(-1.10,1.07),
 (-1.17,1.09),(-1.03,0.94),(-1.31,0.96),(-1.36,1.21),(-1.44,0.69),(-1.30,0.54),(-1.25,0.48),(-1.16,0.46),
 (-1.09,0.44),(-0.98,0.79),(-0.95,0.81),(-1.11,0.59),(-1.41,0.22),(-1.46,0.22),(-1.45,-0.42),(-1.43,-0.58),
 (-1.31,-0.65),(-1.24,-0.51),(-1.16,-0.45),(-1.16,-0.16),(-1.13,-0.01),(-1.04,0.16),(-0.97,0.07),(-0.99,0.25),
 (-0.92,0.38),(-0.85,0.46),(-0.80,0.59),(-0.76,0.72),(-0.83,0.96),(-0.67,0.96),(-0.63,1.13),(-0.60,0.94),
 (-0.57,1.0),(-0.54,1.16),(-0.50,1.26),(-0.69,1.46),(-0.61,1.59),(-0.46,1.09),(-0.40,1.07),(-0.35,1.05),
 (-0.33,0.94),(-0.24,0.87),(-0.21,1.46),(-0.12,1.33),(0.02,1.33),(-0.73,0.38),(-0.69,0.29),(-0.64,0.35),
 (-0.58,0.48),(-0.50,0.55),(-0.46,0.68),(-0.63,0.16),(-0.59,0.07),(-0.69,0.03),(-0.76,-0.03),(-0.80,-0.14),
 (-0.77,-0.27),(-0.85,-0.32),(-0.90,-0.16),(-0.95,-0.27),(-0.72,-0.40),(-0.66,-0.49),(-0.76,-0.58),(-0.80,-0.68),
 (-0.73,-0.75),(-0.69,-0.66),(-0.59,-0.66),(-0.54,-0.53),(-0.50,-0.40),(-0.45,-0.32),(-0.52,-0.23),(-0.47,-0.06),
 (-0.40,0.07),(-0.35,0.25),(-0.38,0.42),(-0.31,0.51),(-0.26,0.29),(-0.21,0.12),(-0.26,-0.14),(-0.31,-0.32),
 (-0.38,-0.49),(-0.43,-0.92),(-0.50,-1.10),(-0.54,-1.18),(-0.45,-1.27),(-0.38,-1.18),(-0.31,-1.05),(-0.26,-1.35),
 (-0.21,-1.22),(-0.59,-1.40),(-0.69,-1.62),(-0.64,-1.79),(-0.78,-1.70),(-0.92,-1.62),(-0.96,-1.48),(-1.02,-1.27),
 (-1.09,-1.10),(-1.16,-1.22),(-1.28,-1.38),(-1.21,-0.88),(-1.30,-0.88),(-1.13,-0.90),(-1.11,-0.75),(-1.32,-1.10),
 (-1.41,-1.20),(-1.48,-0.99),(-1.06,-1.85),(-0.95,-1.74),(-0.47,-1.74),(-0.31,-1.72),(-0.17,-1.57),(-0.12,-1.44),
 (-0.05,-1.79),(-0.26,1.46),(-0.38,1.39),(-0.30,1.24),(-0.12,1.09),(0.08,1.07),(0.14,0.92),(0.33,0.90),
 (0.39,0.77),(0.57,1.07),(0.61,0.68),(0.64,0.59),(0.45,0.68),(0.17,1.55),(0.31,1.42),(0.63,0.46),
 (-0.20,0.40),(-0.10,0.10),(0.05,-0.10),(-0.15,-0.30),(0.10,0.30),(-1.38,0.35),(-1.20,-0.60),(-1.47,-1.40),
 (-1.25,0.00),(-1.20,0.35),(-1.35,-0.25),(-1.05,-0.45),(-0.85,0.20),(-0.78,-0.45),(-0.65,0.75),(-0.55,0.60),
 (-0.62,-0.10),(-0.52,-0.15),(-0.45,0.20),(-0.40,-0.80),(-0.33,-0.35),(-0.28,0.55),(-0.20,0.00),(-0.15,0.70),
 (-1.00,-0.60),(-0.90,-0.95),(-0.70,-1.30),(-0.55,-0.90),(-1.40,0.50),(-1.20,1.30),(-0.75,1.20),(-0.45,1.30),
 (-0.95,1.55),(-0.30,1.65),
]

# scatter panel 4  M in [14,14.6)
P4_PTS = [
 (-0.49,1.33,-1.5),(-0.43,1.24,-1.0),(-0.44,1.85,-0.3),(-0.51,1.11,-0.3),(-0.50,0.86,-0.6),(-0.56,0.56,-0.6),
 (-0.50,0.61,-0.3),(-0.29,0.93,-1.9),(-0.17,1.01,-0.5),(-0.11,1.18,-1.5),(-0.08,0.93,-1.0),(-0.09,0.81,-1.5),
 (-0.04,0.85,-1.0),(-0.06,0.66,-0.5),(0.05,0.72,-1.9),(0.10,0.77,-0.3),(0.06,0.64,-0.1),(0.23,0.94,-1.9),
 (0.17,0.61,-1.5),(0.19,0.46,-1.0),(0.13,0.46,-1.9),(0.12,0.38,-1.5),(0.10,0.55,-1.0),(0.04,0.33,-0.5),
 (0.08,0.20,-0.1),(0.25,0.20,-1.0),(-0.18,0.81,-0.1),(-0.23,0.68,-1.0),(-0.29,0.68,-0.2),(-0.13,0.46,0.0),
 (-0.20,0.38,-1.0),(-0.27,0.07,-1.0),(-0.21,-0.03,-0.5),(-0.08,0.05,0.5),(-0.10,-0.14,0.6),(-0.04,-0.06,-1.5),
 (0.02,-0.03,-1.9),(-0.01,-0.23,-1.0),(-0.06,0.25,-1.0),(-0.14,-0.32,0.5),(-0.13,-0.45,-1.0),(-0.20,-0.62,-1.5),
 (-0.05,-0.40,-0.5),(0.08,-0.32,-1.5),(0.13,-0.49,-0.5),(0.18,-0.14,-1.5),(0.23,-0.14,-1.9),(0.26,-0.16,-1.0),
 (0.25,-0.49,-1.0),(0.33,-0.14,0.5),(0.39,-0.32,-0.5),(0.44,-0.34,0.5),(0.57,-0.19,-0.3),(0.58,-0.51,-1.0),
 (0.51,-0.73,-1.5),(0.57,-0.71,0.5),(0.44,-0.71,-1.9),(0.39,-0.58,-1.5),(0.32,-0.71,-1.0),(0.23,-0.66,-1.0),
 (0.30,-0.84,-0.5),(0.37,-0.92,0.5),(0.32,-0.88,1.0),(0.25,-0.92,-1.9),(0.23,-0.88,1.0),(0.18,-0.84,-0.1),
 (0.20,-1.01,0.5),(0.13,-1.01,0.0),(0.08,-0.75,-0.5),(0.06,-0.92,0.5),(0.04,-1.05,0.6),(-0.06,-0.75,0.5),
 (-0.06,-0.92,-0.3),(-0.11,-1.05,0.5),(-0.15,-1.01,0.5),(-0.20,-0.97,-0.1),(-0.23,-0.88,-0.5),(-0.08,-1.18,0.0),
 (-0.01,-1.22,-0.1),(0.08,-1.18,0.5),(0.15,-1.22,-0.5),(0.27,-1.10,1.0),(0.34,-1.10,-1.9),(0.41,-1.10,-0.1),
 (0.51,-0.92,-1.0),(0.46,-1.01,-0.5),(0.32,-1.31,-1.0),(0.44,-1.44,-1.0),(0.37,-1.53,0.5),(0.38,-1.59,-1.0),
 (0.38,-1.70,-1.9),(0.27,-1.72,-1.0),(0.34,-1.79,-0.5),(0.46,-1.72,-0.3),(0.49,-1.70,-0.2),(0.34,-1.98,0.5),
 (0.18,-1.51,-0.1),(-0.23,-1.79,-1.9),(-0.21,-1.48,-1.5),(-0.34,-1.48,-1.9),(-0.40,-1.51,-0.5),(-0.43,-1.25,-1.0),
 (-0.49,-0.88,-1.9),(-0.42,-0.73,-1.0),(-0.39,-0.49,-1.9),(-0.21,-0.60,-0.5),(-0.18,-0.49,0.5),(-0.30,-0.62,-0.2),
 (-1.07,-1.61,-0.3),(-0.51,-1.96,0.5),(0.04,-0.66,0.5),(0.11,-0.88,1.2),(0.06,-1.18,1.0),(-0.06,-1.27,-1.5),
 (0.14,0.30,-1.9),(0.20,0.10,-1.9),(0.00,0.40,-1.5),(-0.02,0.15,-1.0),(0.15,-0.30,-1.9),(0.28,-0.30,-1.5),
 (0.36,-0.45,-1.9),(0.48,-0.55,-1.0),(0.53,-0.85,0.3),(0.45,-0.85,0.0),(0.40,-0.75,-0.4),(0.28,-0.78,0.6),
 (0.16,-0.70,0.2),(0.10,-0.62,-1.0),(0.02,-0.85,0.0),(-0.03,-0.58,-1.9),(0.22,-1.15,0.3),(0.00,-1.02,0.3),
]
P4_EXTRA = [
 (0.14,-0.62,0.5),(0.18,-0.55,-1.0),(0.22,-0.75,0.3),(0.26,-0.58,-1.5),(0.30,-0.65,0.6),(0.34,-0.80,0.0),
 (0.38,-0.65,-0.5),(0.42,-0.82,0.4),(0.46,-0.62,-1.0),(0.50,-0.78,0.2),(0.36,-0.95,0.7),(0.28,-1.00,-0.5),
 (0.20,-0.92,0.5),(0.12,-0.78,-1.9),(0.16,-0.98,1.0),(0.24,-1.12,0.2),(0.32,-1.02,-1.0),(0.40,-1.00,0.3),
 (0.48,-0.95,-0.3),(0.55,-0.60,0.4),(0.42,-0.45,-1.5),(0.30,-0.40,-1.9),(0.20,-0.40,-1.0),(0.10,-0.45,-1.5),
 (0.05,-0.20,-1.0),(0.10,0.00,-1.9),(0.22,0.30,-1.5),(0.28,0.10,-1.0),(0.08,0.60,-1.9),(0.00,0.20,-0.5),
 (-0.10,0.30,-1.0),(-0.15,0.10,-1.9),(-0.05,-0.55,0.3),(-0.12,-0.85,0.0),(0.00,-0.70,-1.0),(0.03,-0.40,0.5),
 (0.45,-1.20,0.5),(0.35,-1.40,-0.5),(0.25,-1.35,0.2),(-0.15,-1.30,-1.0),
]
P4_FADED = [
 (-1.09,1.65),(-1.09,1.48),(-1.41,1.36),(-1.34,1.05),(-1.22,0.94),(-1.15,0.81),(-1.08,1.05),(-1.01,1.24),
 (-0.87,1.59),(-0.81,1.46),(-0.63,1.68),(-0.49,1.63),(-0.56,1.50),(-0.46,1.46),(-0.37,1.46),(-0.27,1.55),
 (-0.23,1.37),(-0.39,1.24),(-0.46,1.16),(-0.61,1.24),(-0.75,1.11),(-0.87,1.24),(-0.96,1.07),(-1.01,0.77),
 (-0.91,0.68),(-0.82,0.64),(-0.75,0.85),(-0.65,0.90),(-0.58,0.81),(-0.63,0.59),(-0.72,0.46),(-0.87,0.38),
 (-0.96,0.42),(-1.06,0.51),(-1.10,0.38),(-1.20,0.42),(-1.29,0.20),(-1.22,0.12),(-1.41,0.29),(-1.48,0.03),
 (-1.15,0.03),(-1.03,0.20),(-0.99,0.03),(-0.89,0.07),(-0.80,0.12),(-0.68,0.25),(-0.58,0.20),(-0.51,0.33),
 (-0.44,0.25),(-0.37,0.38),(-0.30,0.59),(-0.34,0.81),(-0.25,0.72),(-0.15,0.59),(-0.11,0.85),(-0.04,0.72),
 (0.04,0.55),(0.08,0.38),(0.13,0.68),(0.25,0.42),(0.30,0.25),(0.42,0.25),(0.13,0.12),(0.06,0.07),
 (-0.06,0.20),(-0.15,0.29),(-0.20,0.07),(-0.30,0.03),(-0.39,0.07),(-0.49,-0.06),(-0.58,-0.14),(-0.68,-0.23),
 (-0.77,-0.32),(-0.87,-0.23),(-0.96,-0.32),(-1.06,-0.32),(-1.15,-0.36),(-1.25,-0.23),(-1.34,-0.40),(-1.44,-0.92),
 (-1.46,-1.14),(-1.44,-1.66),(-1.27,-0.75),(-1.15,-0.88),(-1.10,-1.10),(-1.03,-1.23),(-1.01,-1.53),(-0.96,-1.61),
 (-1.23,-1.40),(-0.94,-1.35),(-0.87,-1.18),(-0.80,-1.01),(-0.87,-0.71),(-0.99,-0.75),(-1.01,-0.54),(-0.91,-0.45),
 (-0.77,-0.49),(-0.68,-0.58),(-0.58,-0.66),(-0.63,-0.84),(-0.68,-1.10),(-0.58,-1.27),(-0.63,-1.44),(-0.70,-1.85),
 (-0.58,-1.74),(-0.51,-1.14),(-0.46,-0.92),(-0.49,-0.58),(-0.42,-0.40),(-0.37,-0.19),(-0.53,-0.32),(-0.44,-0.66),
 (-0.39,-1.10),(-0.25,-0.58),(-0.20,-0.32),(-0.15,-0.14),(-0.11,-0.49),(-0.06,-0.75),(-0.15,-0.92),(-0.25,-1.18),
 (-0.11,-1.27),(0.04,-1.40),(0.13,-1.22),(0.23,-1.01),(0.18,-0.66),(0.08,-0.49),(0.23,-0.32),(0.32,-0.58),
 (0.37,-0.92),(0.44,-1.18),(0.51,-1.44),(0.25,-1.70),(0.44,-1.74),(-0.30,1.68),(-0.20,1.50),(-0.13,1.33),
 (-0.01,1.11),(0.08,0.98),(0.23,0.94),(-0.40,0.50),(-0.33,0.45),(-0.45,0.00),(-0.35,-0.35),(-0.28,0.20),
 (-0.20,0.55),(-0.10,0.65),(-0.05,0.40),(0.00,0.10),(-0.25,-0.05),(-0.55,0.45),(-0.65,0.00),(-0.70,-0.40),
 (-0.55,0.70),(-0.48,0.40),(-0.42,0.70),(-0.38,0.90),(-0.35,0.15),(-0.30,0.40),(-0.26,-0.30),(-0.22,0.85),
 (-0.18,0.00),(-0.14,0.75),(-0.12,-0.20),(-0.08,0.50),(-0.03,0.90),(0.02,0.30),(0.05,-0.10),(-0.60,0.25),
 (-0.62,-0.20),(-0.55,-0.50),(-0.50,-0.80),(-0.45,0.55),(-0.40,-0.25),(-0.32,-0.55),(-0.28,-0.85),(-0.20,-0.70),
 (-0.16,0.40),(-0.10,-0.60),(-0.06,0.05),(-0.52,0.10),(-0.48,-0.35),(-0.36,0.30),(-0.70,0.70),(-0.80,0.30),
 (-0.85,-0.10),(-0.78,-0.60),(-1.20,0.70),(-1.30,-0.10),(-1.05,-0.05),(-0.92,0.95),(-0.55,1.30),(-0.65,1.40),
]

# contours (x, y) per panel
C1_BLUE = [(-0.18,-0.08),(-0.14,0.09),(-0.02,0.18),(0.12,0.28),(0.26,0.36),(0.38,0.37),(0.50,0.28),(0.58,0.09),
 (0.63,-0.25),(0.63,-0.60),(0.57,-0.94),(0.45,-1.20),(0.28,-1.33),(0.12,-1.35),(-0.02,-1.29),(-0.12,-1.12),
 (-0.17,-0.86),(-0.18,-0.60),(-0.18,-0.30)]
C1_GREEN = [(-0.72,-0.08),(-0.70,0.13),(-0.63,0.28),(-0.50,0.44),(-0.31,0.50),(-0.12,0.48),(0.07,0.41),(0.21,0.35),
 (0.38,0.22),(0.52,0.09),(0.60,-0.13),(0.64,-0.51),(0.61,-0.86),(0.54,-1.12),(0.40,-1.29),(0.21,-1.38),
 (0.02,-1.33),(-0.12,-1.20),(-0.21,-0.99),(-0.31,-0.77),(-0.45,-0.64),(-0.59,-0.53),(-0.68,-0.36)]
C1_ORANGE = [(-1.48,0.07),(-1.45,0.31),(-1.37,0.52),(-1.21,0.69),(-0.97,0.78),(-0.69,0.81),(-0.40,0.80),(-0.17,0.74),
 (0.09,0.61),(0.35,0.39),(0.54,0.18),(0.65,-0.04),(0.71,-0.34),(0.70,-0.69),(0.63,-1.03),(0.54,-1.25),
 (0.35,-1.42),(0.14,-1.45),(-0.12,-1.40),(-0.40,-1.29),(-0.66,-1.16),(-0.92,-0.99),(-1.16,-0.77),(-1.35,-0.51),
 (-1.46,-0.25)]

C2_DASHDOT = [(-1.22,-0.02),(-1.20,0.26),(-1.13,0.56),(-0.99,0.82),(-0.80,1.0),(-0.56,1.05),(-0.34,1.06),(-0.20,0.95),
 (-0.04,0.74),(0.08,0.52),(0.18,0.18),(0.20,-0.17),(0.15,-0.51),(0.04,-0.77),(-0.15,-0.94),(-0.39,-1.12),
 (-0.58,-1.20),(-0.77,-1.22),(-0.94,-1.12),(-1.08,-0.86),(-1.17,-0.51)]
C2_DRED = [(-1.10,0.18),(-1.03,0.56),(-0.87,0.76),(-0.63,0.89),(-0.39,0.89),(-0.15,0.84),(0.08,0.76),(0.27,0.61),
 (0.42,0.31),(0.53,-0.04),(0.63,-0.43),(0.63,-0.77),(0.53,-1.12),(0.37,-1.25),(0.08,-1.29),(-0.20,-1.20),
 (-0.51,-1.03),(-0.77,-0.86),(-0.96,-0.64),(-1.07,-0.30)]
C2_ORANGE = [(-0.87,-0.25),(-0.82,0.18),(-0.75,0.52),(-0.61,0.78),(-0.46,0.91),(-0.30,0.93),(-0.11,0.84),(0.08,0.74),
 (0.23,0.56),(0.32,0.31),(0.42,0.0),(0.46,-0.30),(0.49,-0.64),(0.44,-0.86),(0.27,-1.07),(0.04,-1.14),
 (-0.25,-1.12),(-0.51,-1.03),(-0.63,-0.94),(-0.73,-0.77),(-0.80,-0.56)]
C2_GREEN = [(-0.49,-0.43),(-0.48,0.0),(-0.44,0.35),(-0.32,0.61),(-0.15,0.74),(0.04,0.76),(0.23,0.61),(0.37,0.35),
 (0.46,0.05),(0.53,-0.30),(0.56,-0.65),(0.51,-0.99),(0.39,-1.20),(0.23,-1.25),(0.04,-1.22),(-0.15,-1.12),
 (-0.30,-0.94),(-0.41,-0.73)]
C2_BLUE = [(-0.39,-0.04),(-0.36,0.26),(-0.25,0.48),(-0.11,0.54),(0.08,0.56),(0.27,0.48),(0.42,0.26),(0.51,-0.04),
 (0.59,-0.34),(0.63,-0.69),(0.58,-1.03),(0.46,-1.29),(0.27,-1.44),(0.08,-1.44),(-0.06,-1.33),(-0.18,-1.12),
 (-0.25,-0.81),(-0.32,-0.51),(-0.38,-0.30)]

C3_DASHDOT = [(-0.90,-0.06),(-0.87,0.29),(-0.80,0.68),(-0.69,0.94),(-0.50,1.09),(-0.33,1.12),(-0.17,1.05),(-0.02,0.90),
 (0.12,0.72),(0.21,0.55),(0.31,0.29),(0.34,-0.06),(0.33,-0.32),(0.21,-0.66),(0.07,-0.92),(-0.12,-1.10),
 (-0.31,-1.14),(-0.50,-1.10),(-0.66,-0.92),(-0.78,-0.66),(-0.86,-0.40)]
C3_DRED = [(-0.67,-0.14),(-0.66,0.07),(-0.59,0.29),(-0.45,0.51),(-0.26,0.72),(-0.07,0.81),(0.12,0.81),(0.26,0.68),
 (0.35,0.46),(0.43,0.20),(0.48,-0.06),(0.52,-0.40),(0.47,-0.75),(0.33,-1.01),(0.17,-1.14),(-0.02,-1.15),
 (-0.21,-1.10),(-0.38,-0.97),(-0.52,-0.71),(-0.62,-0.40)]
C3_ORANGE = [(-0.43,-0.49),(-0.44,-0.06),(-0.43,0.38),(-0.38,0.68),(-0.26,0.90),(-0.12,0.97),(0.05,0.97),(0.21,0.92),
 (0.31,0.77),(0.40,0.46),(0.47,0.20),(0.54,-0.10),(0.54,-0.40),(0.47,-0.71),(0.33,-1.01),(0.12,-1.16),
 (-0.09,-1.16),(-0.26,-1.05),(-0.35,-0.88),(-0.40,-0.71)]
C3_GREEN = [(-0.35,-0.49),(-0.34,-0.06),(-0.28,0.38),(-0.21,0.68),(-0.05,0.77),(0.12,0.77),(0.21,0.72),(0.31,0.55),
 (0.35,0.20),(0.43,-0.14),(0.54,-0.45),(0.59,-0.75),(0.57,-1.01),(0.43,-1.27),(0.21,-1.38),(-0.02,-1.38),
 (-0.17,-1.27),(-0.26,-1.01),(-0.33,-0.75)]
C3_BLUE = [(-0.17,0.25),(-0.19,0.46),(-0.12,0.59),(0.02,0.61),(0.17,0.55),(0.28,0.33),(0.33,0.12),(0.38,-0.19),
 (0.50,-0.45),(0.59,-0.66),(0.61,-0.92),(0.57,-1.18),(0.43,-1.35),(0.21,-1.46),(0.02,-1.51),(-0.12,-1.48),
 (-0.21,-1.31),(-0.24,-1.10),(-0.17,-0.84),(-0.14,-0.49),(-0.15,-0.14)]

C4_DASHDOT = [(-0.75,-0.06),(-0.74,0.29),(-0.72,0.51),(-0.63,0.68),(-0.51,0.94),(-0.34,1.13),(-0.18,1.20),(-0.04,1.19),
 (0.08,1.07),(0.18,0.85),(0.25,0.64),(0.30,0.29),(0.32,-0.14),(0.30,-0.58),(0.25,-0.88),(0.13,-1.10),
 (-0.06,-1.18),(-0.30,-1.20),(-0.49,-1.14),(-0.63,-0.92),(-0.70,-0.58)]
C4_ORANGE = [(-0.32,-0.45),(-0.33,-0.06),(-0.30,0.29),(-0.25,0.64),(-0.20,0.96),(-0.11,1.07),(0.04,1.05),(0.15,0.85),
 (0.30,0.42),(0.42,0.07),(0.51,-0.32),(0.58,-0.71),(0.56,-1.10),(0.46,-1.35),(0.27,-1.44),(0.08,-1.40),
 (-0.11,-1.27),(-0.23,-1.05),(-0.30,-0.79)]
C4_DRED = [(-0.32,-0.49),(-0.29,-0.14),(-0.23,0.20),(-0.15,0.46),(-0.06,0.72),(0.06,0.82),(0.15,0.77),(0.25,0.46),
 (0.37,0.12),(0.46,-0.23),(0.53,-0.58),(0.53,-0.92),(0.44,-1.23),(0.25,-1.33),(0.04,-1.33),(-0.13,-1.23),
 (-0.25,-0.92),(-0.31,-0.66)]
C4_GREEN = [(-0.37,-0.92),(-0.32,-0.49),(-0.23,-0.14),(-0.11,0.16),(0.04,0.29),(0.18,0.20),(0.32,-0.01),(0.46,-0.23),
 (0.61,-0.40),(0.69,-0.66),(0.68,-0.92),(0.56,-1.27),(0.39,-1.48),(0.18,-1.59),(-0.06,-1.59),(-0.25,-1.48),
 (-0.34,-1.27)]
C4_BLUE = [(-0.39,-1.35),(-0.37,-1.18),(-0.30,-0.92),(-0.15,-0.66),(0.04,-0.45),(0.23,-0.29),(0.37,-0.26),(0.51,-0.32),
 (0.63,-0.49),(0.68,-0.71),(0.63,-0.92),(0.51,-1.14),(0.32,-1.31),(0.08,-1.44),(-0.15,-1.53),(-0.32,-1.51)]

PANEL_LABELS = ["(10,\u200912)", "[12,\u200913)", "(10,\u200912)", "[12,\u200913)",
                "[13,\u200914)", "[14,\u200914.6)", "[13,\u200914)", "[14,\u200914.6)"]

# ---------------- styling / layout ----------------
W, H = 830, 929
OFF = 8                      # page body margin of the browser
ML, MR, MT, MB = 59, 68, 26, 39   # wanted screen positions of the plot area
PW, PH = W - ML - MR, H - MT - MB
FONT = "Liberation Serif"
MAG = "#c000c0"
VIO = "#e68ae6"
C_BLUE, C_GREEN, C_ORANGE, C_DRED, C_DDOT = "#0a64d2", "#55bb44", "#cc7a00", "#a00000", "#780000"


def pp(x, y):
    return (x - ML) / PW, (H - MB - y) / PH


def jet(t):
    r = np.interp(t, [0, 0.35, 0.66, 0.89, 1], [0, 0, 1, 1, 0.5])
    g = np.interp(t, [0, 0.125, 0.375, 0.64, 0.91, 1], [0, 0, 1, 1, 0, 0])
    b = np.interp(t, [0, 0.11, 0.34, 0.65, 1], [0.5, 1, 1, 0, 0])
    return "rgb(%d,%d,%d)" % (round(r * 255), round(g * 255), round(b * 255))


CSCALE = [[p, jet(1 - p)] for p in np.linspace(0, 1, 41)]

XD_L, XD_R = [0, 0.5012], [0.5012, 1.0]
YD = {"top": [0.8576, 1.0], "s1": [0.5, 0.8576], "s2": [0.1424, 0.5], "bot": [0.0, 0.1424]}
PANELS = {1: ("top", XD_L), 2: ("top", XD_R), 3: ("s1", XD_L), 4: ("s1", XD_R),
          5: ("s2", XD_L), 6: ("s2", XD_R), 7: ("bot", XD_L), 8: ("bot", XD_R)}

fig = go.Figure()


def ax(i):
    return ("x" if i == 1 else "x%d" % i), ("y" if i == 1 else "y%d" % i)


def add_line(i, xs, ys, color, width, dash="solid", yax=None, shape="linear"):
    xa, ya = ax(i)
    fig.add_trace(go.Scatter(x=xs, y=ys, mode="lines", xaxis=xa, yaxis=yax or ya,
                             line=dict(color=color, width=width, dash=dash, shape=shape),
                             showlegend=False, hoverinfo="skip"))


def add_pts(i, pts, faded):
    xa, ya = ax(i)
    if faded:
        fig.add_trace(go.Scatter(x=[p[0] for p in faded], y=[p[1] for p in faded], mode="markers",
                                 xaxis=xa, yaxis=ya, showlegend=False, hoverinfo="skip",
                                 marker=dict(symbol="circle-open", size=7.5, color="rgba(150,40,40,0.22)",
                                             line=dict(width=1))))
    fig.add_trace(go.Scatter(x=[p[0] for p in pts], y=[p[1] for p in pts], mode="markers",
                             xaxis=xa, yaxis=ya, showlegend=False, hoverinfo="skip",
                             marker=dict(symbol="circle-open", size=7.5, color=[p[2] for p in pts],
                                         coloraxis="coloraxis", opacity=0.85, line=dict(width=1))))


def add_contour(i, pts, color, dash):
    xs = [p[0] for p in pts] + [pts[0][0]]
    ys = [p[1] for p in pts] + [pts[0][1]]
    add_line(i, xs, ys, color, 2.2, dash=dash, shape="spline")


DASH = "11px,6px"
DASHDOT = "9px,4px,2px,4px"

for i, (bx, by, gux, guy, glx, gly, mx, my, vux, vuy, vlx, vly, oy) in {
    1: (TL_BLACK_X, TL_BLACK_Y, TL_GUP_X, TL_GUP_Y, TL_GLO_X, TL_GLO_Y, TL_MAG_X, TL_MAG_Y, TL_VUP_X, TL_VUP_Y, TL_VLO_X, TL_VLO_Y, "y9"),
    2: (TR_BLACK_X, TR_BLACK_Y, TR_GUP_X, TR_GUP_Y, TR_GLO_X, TR_GLO_Y, TR_MAG_X, TR_MAG_Y, TR_VUP_X, TR_VUP_Y, TR_VLO_X, TR_VLO_Y, "y10"),
    7: (BL_BLACK_X, BL_BLACK_Y, BL_GUP_X, BL_GUP_Y, BL_GLO_X, BL_GLO_Y, BL_MAG_X, BL_MAG_Y, BL_VUP_X, BL_VUP_Y, BL_VLO_X, BL_VLO_Y, "y11"),
    8: (BR_BLACK_X, BR_BLACK_Y, BR_GUP_X, BR_GUP_Y, BR_GLO_X, BR_GLO_Y, BR_MAG_X, BR_MAG_Y, BR_VUP_X, BR_VUP_Y, BR_VLO_X, BR_VLO_Y, "y12"),
}.items():
    add_line(i, vux, vuy, VIO, 1.1, dash="7px,4px", yax=oy)
    add_line(i, vlx, vly, VIO, 1.1, dash="7px,4px", yax=oy)
    add_line(i, gux, guy, "#999999", 1.3)
    add_line(i, glx, gly, "#999999", 1.3)
    add_line(i, mx, my, MAG, 2.6, dash="13px,6px", yax=oy)
    add_line(i, bx, by, "black", 2.2)

add_pts(3, P1_PTS + P1_EXTRA, P1_FADED)
add_pts(4, P2_PTS + P2_EXTRA, P2_FADED)
add_pts(5, P3_PTS + P3_EXTRA, P3_FADED)
add_pts(6, P4_PTS + P4_EXTRA, P4_FADED)

add_contour(3, C1_ORANGE, C_ORANGE, DASH)
add_contour(3, C1_GREEN, C_GREEN, DASH)
add_contour(3, C1_BLUE, C_BLUE, DASH)
for i, (dd, dr, orr, gr, bl) in {4: (C2_DASHDOT, C2_DRED, C2_ORANGE, C2_GREEN, C2_BLUE),
                                 5: (C3_DASHDOT, C3_DRED, C3_ORANGE, C3_GREEN, C3_BLUE),
                                 6: (C4_DASHDOT, C4_DRED, C4_ORANGE, C4_GREEN, C4_BLUE)}.items():
    add_contour(i, dd, C_DDOT, DASHDOT)
    add_contour(i, orr, C_ORANGE, DASH)
    add_contour(i, dr, C_DRED, DASH)
    add_contour(i, gr, C_GREEN, DASH)
    add_contour(i, bl, C_BLUE, DASH)

tickfont = dict(family=FONT, size=14, color="black")
layout = dict(width=W, height=H,
              margin=dict(l=ML - OFF, r=W - (ML - OFF) - PW, t=MT - OFF, b=H - (MT - OFF) - PH),
              paper_bgcolor="white", plot_bgcolor="white",
              font=dict(family=FONT, size=14, color="black"), showlegend=False)

XT = [-1.0, -0.5, 0.0, 0.5, 1.0]
XTT = ["\u22121.0", "\u22120.5", "0.0", "0.5", "1.0"]
for i, (row, xd) in PANELS.items():
    xa, ya = ax(i)
    kx = "xaxis" if i == 1 else "xaxis%d" % i
    ky = "yaxis" if i == 1 else "yaxis%d" % i
    layout[kx] = dict(domain=xd, anchor=ya, range=[-1.5, 1.0], tickvals=XT, ticktext=XTT,
                      showticklabels=(row == "bot"), ticks="inside", ticklen=8, tickcolor="black",
                      showline=True, linecolor="black", linewidth=1, mirror="ticks", showgrid=False,
                      zeroline=False, tickfont=tickfont)
    left = xd is XD_L
    if row == "top":
        tv = [6, 7, 8, 9, 10, 11]; tt = [str(v) for v in tv]; rg = [6, 11]
    elif row == "bot":
        tv = [7, 8, 9, 10, 11, 12]; tt = [str(v) for v in tv]; rg = [7, 12]
    else:
        tv = [-2.0, -1.5, -1.0, -0.5, 0.0, 0.5, 1.0, 1.5, 2.0]
        tt = [("%.1f" % v).replace("-", "\u2212") for v in tv]
        tt[0] = ""
        if row == "s1":
            tt[-1] = ""
        rg = [-2, 2]
    mirror = "ticks"
    if not left and row in ("top", "bot"):
        mirror = True
    layout[ky] = dict(domain=YD[row], anchor=xa, range=rg, tickvals=tv, ticktext=tt,
                      showticklabels=left, ticks="inside", ticklen=8, tickcolor="black",
                      showline=True, linecolor="black", linewidth=1, mirror=mirror, showgrid=False,
                      zeroline=False, tickfont=tickfont)

layout["yaxis9"] = dict(overlaying="y", anchor="x", range=[-2, 3], visible=False)
layout["yaxis11"] = dict(overlaying="y7", anchor="x7", range=[-1, 4], visible=False)
for k, ov, anc, rg, tv in [("yaxis10", "y2", "x2", [-2, 3], [-2, -1, 0, 1, 2, 3]),
                           ("yaxis12", "y8", "x8", [-1, 4], [0, 1, 2, 3, 4])]:
    layout[k] = dict(overlaying=ov, anchor=anc, side="right", range=rg, tickvals=tv,
                     ticktext=[str(v).replace("-", "\u2212") for v in tv], ticks="inside", ticklen=8,
                     tickcolor=MAG, tickfont=dict(family=FONT, size=14, color=MAG), showgrid=False,
                     zeroline=False, showline=False)

cbx, cby = pp(765, 444)
layout["coloraxis"] = dict(cmin=-2, cmax=2, colorscale=CSCALE,
                           colorbar=dict(x=cbx, xanchor="left", y=cby, yanchor="middle",
                                         lenmode="pixels", len=492, thickness=10, outlinewidth=1,
                                         outlinecolor="black", tickvals=[-2, -1.5, -1, -0.5, 0, 0.5, 1, 1.5, 2],
                                         ticktext=["\u22122.0", "\u22121.5", "\u22121.0", "\u22120.5", "0.0",
                                                   "0.5", "1.0", "1.5", "2.0"],
                                         ticks="inside", ticklen=4, tickcolor="black",
                                         tickfont=dict(family=FONT, size=14), xpad=0, ypad=0))

shapes = []
for i in range(1, 9):
    xa, ya = ax(i)
    shapes.append(dict(type="line", xref=xa, x0=0, x1=0, yref=ya + " domain", y0=0, y1=1,
                       line=dict(color="#aaaaaa", width=1, dash="dot"), layer="below"))
for i in (3, 4, 5, 6):
    xa, ya = ax(i)
    shapes.append(dict(type="line", xref=xa + " domain", x0=0, x1=1, yref=ya, y0=0, y1=0,
                       line=dict(color="#666666", width=1, dash="dot"), layer="below"))
for i in (1, 2, 7, 8):
    xa, ya = ax(i)
    shapes.append(dict(type="line", xref=xa + " domain", x0=0, x1=1, yref=ya, y0=8, y1=8,
                       line=dict(color="#e060e0", width=1, dash="dot"), layer="below"))
for (xb, y0b, y1b) in [(24, 17, 100), (24, 762, 845)]:
    a = pp(xb, y0b); b = pp(xb, y1b)
    shapes.append(dict(type="line", xref="paper", yref="paper", x0=a[0], x1=b[0], y0=a[1], y1=b[1],
                       line=dict(color="black", width=1)))
layout["shapes"] = shapes

ann = []
for i in range(1, 9):
    xa, ya = ax(i)
    row = PANELS[i][0]
    ytop = 0.93 if row in ("top", "bot") else 0.975
    ann.append(dict(xref=xa + " domain", yref=ya + " domain", x=0.965, y=ytop, xanchor="right",
                    yanchor="top", showarrow=False,
                    text="<i>\u2133</i>\u2009\u2208\u2009" + PANEL_LABELS[i - 1],
                    font=dict(family=FONT, size=16, color="black")))


def rot(text, x, y, size, color="black", family=FONT):
    px_, py_ = pp(x, y)
    ann.append(dict(xref="paper", yref="paper", x=px_, y=py_, xanchor="center", yanchor="middle",
                    text=text, textangle=-90, showarrow=False, font=dict(family=family, size=size, color=color)))


DEN = "M<sub>\u2299</sub>\u2009kpc<sup>\u22123</sup>km<sup>2</sup>s<sup>\u22122</sup>"
for yo in (0, 745):
    rot("<i>P</i><sub>ram</sub>", 15, 40 + yo, 14)
    rot(DEN, 33, 58 + yo, 13)
    rot("(", 23, 111 + yo, 22)
    rot(")", 23, 12 + yo, 22)
    rot("log<sub>10</sub>", 17, 137 + yo, 15)

rot("<i>v</i><sub>sat</sub> \u00b7 <i>R\u0302</i><sub>sat</sub>/<i>V</i><sub>200c,parent</sub>", 17, 468, 16)
rot("\u2192", 12, 537, 10)
rot("log<sub>10</sub>(<i>P</i><sub>ram</sub>/<i>P\u0304</i><sub>restoring</sub>)", 798, 88, 15, VIO)
rot("log<sub>10</sub>(<i>P</i><sub>ram</sub>/<i>P\u0304</i><sub>restoring</sub>)", 786, 828, 15, VIO)
rot("\u0394\u2009log<sub>10</sub>(<i>m</i><sub>H\u2009I</sub>/<i>m</i><sub>*</sub>)", 815, 442, 15)
xt, yt = pp(411, 915)
ann.append(dict(xref="paper", yref="paper", x=xt, y=yt, xanchor="center", yanchor="middle", showarrow=False,
                text="log<sub>10</sub>(<i>R</i><sub>sat</sub>/<i>R</i><sub>200c,parent</sub>)",
                font=dict(family=FONT, size=14, color="black")))
layout["annotations"] = ann

fig.update_layout(**layout)
# pull tick labels closer to the axes (matplotlib-like small pad)
for i in range(1, 9):
    kx = "xaxis" if i == 1 else "xaxis%d" % i
    ky = "yaxis" if i == 1 else "yaxis%d" % i
    try:
        fig.update_layout({kx: dict(ticklabelstandoff=-5), ky: dict(ticklabelstandoff=-9)})
    except Exception:
        pass
fig.write_html("out.html")
